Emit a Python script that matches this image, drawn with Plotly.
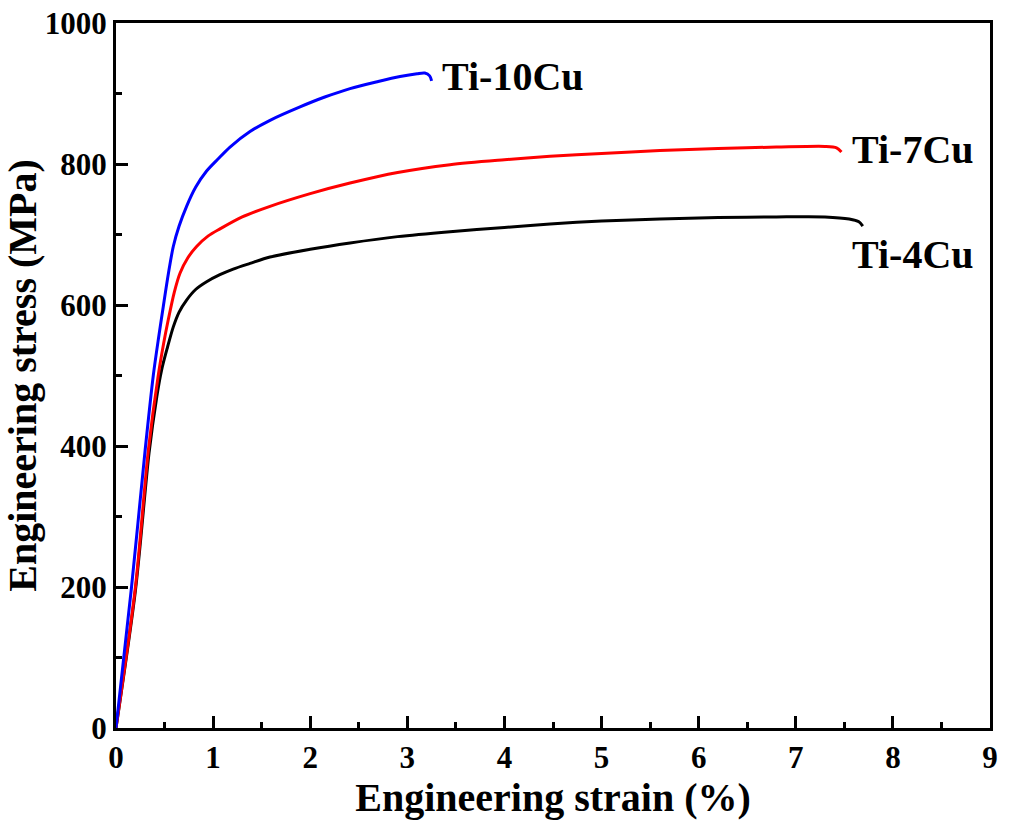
import plotly.graph_objects as go

# Ti-10Cu
strain_10 = [0, 0.16, 0.3, 0.384, 0.44, 0.487, 0.54, 0.59, 0.65, 0.727, 0.82, 0.933, 1.05, 1.174, 1.38, 1.586, 1.895, 2.15, 2.41, 2.7, 2.925, 3.1, 3.18, 3.23, 3.25]
stress_10 = [0, 200, 394, 500, 555, 598, 645, 683, 712, 740, 767, 790, 807, 824, 846, 862, 881, 895, 907, 917, 924, 928, 929, 925, 918]
# Ti-7Cu
strain_7 = [0, 0.2, 0.333, 0.435, 0.49, 0.538, 0.6, 0.659, 0.74, 0.83, 0.95, 1.071, 1.3, 1.586, 2.0, 2.41, 2.9, 3.44, 4.0, 4.47, 5.0, 5.6, 6.2, 6.8, 7.3, 7.42, 7.47]
stress_7 = [0, 200, 394, 500, 545, 579, 618, 645, 667, 683, 698, 708, 725, 740, 758, 773, 788, 799, 806, 811, 815, 819, 822, 824, 825, 823, 817]
# Ti-4Cu
strain_4 = [0, 0.2, 0.34, 0.42, 0.47, 0.53, 0.59, 0.65, 0.727, 0.82, 0.933, 1.07, 1.207, 1.38, 1.586, 2.0, 2.41, 2.9, 3.44, 4.0, 4.47, 5.0, 5.6, 6.2, 6.8, 7.3, 7.55, 7.65, 7.69]
stress_4 = [0, 195, 390, 470, 508, 540, 569, 590, 607, 622, 633, 643, 651, 659, 668, 679, 688, 697, 704, 710, 715, 719, 722, 724, 725, 725, 722, 718, 712]

labels = ["Ti-10Cu", "Ti-7Cu", "Ti-4Cu"]
label_x = [3.34, 7.56, 7.56]
label_y = [924, 821, 672]

FONT = "Liberation Serif"

fig = go.Figure()
for xs, ys, col in [(strain_4, stress_4, "black"), (strain_7, stress_7, "red"), (strain_10, stress_10, "blue")]:
    fig.add_trace(go.Scatter(x=xs, y=ys, mode="lines",
                             line=dict(color=col, width=3, shape="spline", smoothing=0.8),
                             showlegend=False, hoverinfo="skip"))

for t, x, y in zip(labels, label_x, label_y):
    fig.add_annotation(x=x, y=y, text=t, showarrow=False, xanchor="left", yanchor="middle",
                       font=dict(family=FONT, size=40, color="black", weight="bold"))

axis_common = dict(
    showgrid=False, zeroline=False, showline=True, linecolor="black", linewidth=3,
    mirror=True, ticks="inside", ticklen=12, tickwidth=3, tickcolor="black",
    tickfont=dict(family=FONT, size=31, color="black", weight="bold"),
)

fig.update_xaxes(range=[0, 9], dtick=1, tick0=0,
                 minor=dict(ticks="inside", ticklen=6, tickwidth=3, tickcolor="black", dtick=0.5),
                 title=dict(text="Engineering strain (%)", standoff=8,
                            font=dict(family=FONT, size=40, color="black", weight="bold")),
                 **axis_common)
fig.update_yaxes(range=[0, 1000], dtick=200, tick0=0,
                 minor=dict(ticks="inside", ticklen=6, tickwidth=3, tickcolor="black", dtick=100),
                 title=dict(text="Engineering stress (MPa)", standoff=4,
                            font=dict(family=FONT, size=40, color="black", weight="bold")),
                 **axis_common)

fig.update_layout(width=1009, height=820, plot_bgcolor="white", paper_bgcolor="white",
                  margin=dict(l=116, r=19, t=23, b=92, autoexpand=False))

fig.write_html("out.html", config={"displayModeBar": False},
               post_script="document.body.style.margin='0';document.body.style.overflow='hidden';")
